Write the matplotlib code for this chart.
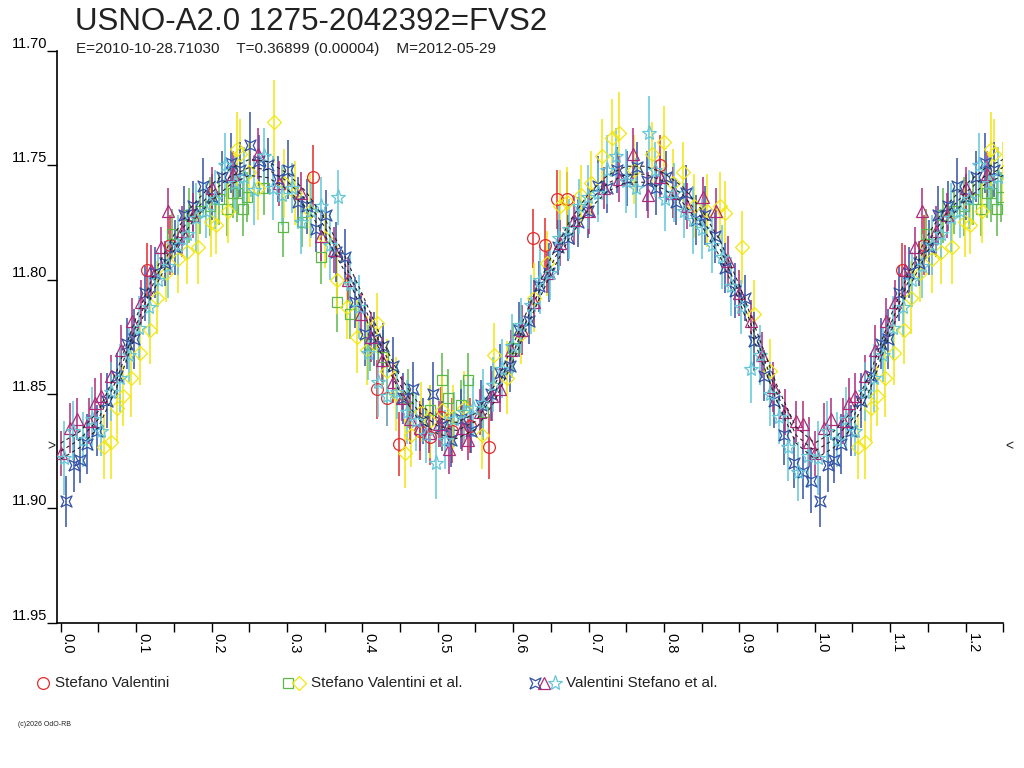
import numpy as np
import matplotlib.pyplot as plt
from matplotlib.ticker import MultipleLocator

plt.rcParams['font.family'] = ['Liberation Sans', 'DejaVu Sans']

title = "USNO-A2.0 1275-2042392=FVS2"
subtitle = "E=2010-10-28.71030    T=0.36899 (0.00004)    M=2012-05-29"
ref_mag = 11.873
curve_band = 0.0035

# fitted light curve, phase 0..1
curve_phase = [0.000, 0.025, 0.050, 0.075, 0.100, 0.125, 0.150, 0.175, 0.200, 0.225,
               0.250, 0.275, 0.300, 0.325, 0.350, 0.375, 0.400, 0.425, 0.450, 0.475,
               0.500, 0.525, 0.550, 0.575, 0.600, 0.625, 0.650, 0.675, 0.700, 0.725,
               0.750, 0.775, 0.800, 0.825, 0.850, 0.875, 0.900, 0.925, 0.950, 0.975, 1.000]
curve_mag = [11.875, 11.870, 11.861, 11.843, 11.820, 11.800, 11.784, 11.771, 11.762, 11.755,
             11.751, 11.752, 11.757, 11.765, 11.777, 11.792, 11.810, 11.829, 11.846, 11.858,
             11.864, 11.866, 11.862, 11.850, 11.832, 11.812, 11.794, 11.778, 11.766, 11.758,
             11.754, 11.754, 11.757, 11.763, 11.773, 11.787, 11.806, 11.828, 11.850, 11.868, 11.875]

# Stefano Valentini
red_phase = [0.115, 0.145, 0.335, 0.419, 0.432, 0.448, 0.476, 0.490, 0.504, 0.519,
             0.543, 0.568, 0.626, 0.642, 0.658, 0.672, 0.795]
red_mag = [11.796, 11.785, 11.755, 11.848, 11.852, 11.872, 11.866, 11.869, 11.860, 11.866,
           11.864, 11.873, 11.782, 11.785, 11.765, 11.765, 11.750]
red_err = [0.012, 0.013, 0.014, 0.013, 0.012, 0.014, 0.013, 0.012, 0.013, 0.014,
           0.012, 0.014, 0.013, 0.012, 0.013, 0.012, 0.013]

# Stefano Valentini et al. (two filters)
green_phase = [0.148, 0.170, 0.185, 0.198, 0.210, 0.221, 0.229, 0.234, 0.242, 0.247,
               0.270, 0.295, 0.320, 0.345, 0.367, 0.384, 0.410, 0.428, 0.460, 0.490,
               0.506, 0.514, 0.531, 0.540, 0.560, 0.600]
green_mag = [11.780, 11.772, 11.770, 11.768, 11.765, 11.769, 11.762, 11.762, 11.769, 11.764,
             11.760, 11.777, 11.775, 11.790, 11.810, 11.815, 11.828, 11.834, 11.852, 11.857,
             11.844, 11.852, 11.855, 11.844, 11.858, 11.830]
green_err = [0.011, 0.012, 0.010, 0.013, 0.011, 0.012, 0.011, 0.013, 0.012, 0.011,
             0.012, 0.013, 0.011, 0.012, 0.013, 0.011, 0.012, 0.012, 0.013, 0.011,
             0.012, 0.013, 0.011, 0.012, 0.012, 0.011]

yellow_phase = [0.057, 0.066, 0.075, 0.083, 0.093, 0.105, 0.118, 0.128, 0.140, 0.155,
                0.168, 0.182, 0.199, 0.206, 0.222, 0.234, 0.238, 0.250, 0.262, 0.283,
                0.296, 0.310, 0.330, 0.350, 0.366, 0.380, 0.393, 0.406, 0.420, 0.432,
                0.445, 0.456, 0.464, 0.478, 0.490, 0.505, 0.520, 0.535, 0.559, 0.574,
                0.592, 0.610, 0.628, 0.645, 0.662, 0.672, 0.690, 0.703, 0.718, 0.731,
                0.740, 0.760, 0.784, 0.800, 0.812, 0.825, 0.840, 0.857, 0.874, 0.881,
                0.903, 0.920, 0.940]
yellow_mag = [11.873, 11.871, 11.856, 11.851, 11.843, 11.832, 11.822, 11.808, 11.797, 11.791,
              11.788, 11.786, 11.775, 11.776, 11.770, 11.743, 11.745, 11.753, 11.760, 11.731,
              11.758, 11.762, 11.770, 11.782, 11.800, 11.812, 11.825, 11.831, 11.819, 11.840,
              11.850, 11.876, 11.868, 11.858, 11.862, 11.857, 11.860, 11.856, 11.868, 11.833,
              11.843, 11.824, 11.808, 11.793, 11.768, 11.766, 11.763, 11.758, 11.746, 11.738,
              11.736, 11.752, 11.745, 11.740, 11.758, 11.753, 11.768, 11.770, 11.768, 11.771,
              11.786, 11.815, 11.840]
yellow_err = [0.014, 0.016, 0.015, 0.013, 0.017, 0.014, 0.015, 0.016, 0.013, 0.015,
              0.014, 0.016, 0.015, 0.013, 0.014, 0.016, 0.015, 0.013, 0.014, 0.018,
              0.015, 0.014, 0.016, 0.013, 0.015, 0.014, 0.016, 0.015, 0.013, 0.014,
              0.016, 0.015, 0.014, 0.013, 0.016, 0.015, 0.014, 0.016, 0.015, 0.014,
              0.016, 0.013, 0.015, 0.014, 0.016, 0.015, 0.013, 0.014, 0.016, 0.017,
              0.018, 0.015, 0.014, 0.016, 0.015, 0.013, 0.014, 0.016, 0.015, 0.014,
              0.016, 0.015, 0.014]

# Valentini Stefano et al. (three filters)
blue_phase = [0.007, 0.018, 0.026, 0.035, 0.048, 0.061, 0.074, 0.088, 0.097, 0.112,
              0.125, 0.138, 0.151, 0.163, 0.176, 0.189, 0.201, 0.214, 0.226, 0.238,
              0.251, 0.263, 0.275, 0.288, 0.301, 0.314, 0.327, 0.339, 0.352, 0.365,
              0.377, 0.390, 0.403, 0.416, 0.428, 0.441, 0.454, 0.467, 0.480, 0.493,
              0.505, 0.518, 0.531, 0.544, 0.557, 0.570, 0.583, 0.596, 0.608, 0.621,
              0.634, 0.647, 0.660, 0.673, 0.686, 0.699, 0.712, 0.725, 0.738, 0.751,
              0.764, 0.777, 0.790, 0.803, 0.816, 0.829, 0.842, 0.855, 0.868, 0.881,
              0.894, 0.907, 0.920, 0.933, 0.946, 0.959, 0.972, 0.985, 0.995]
blue_mag = [11.897, 11.881, 11.879, 11.872, 11.866, 11.853, 11.842, 11.828, 11.826, 11.806,
            11.797, 11.793, 11.786, 11.772, 11.768, 11.759, 11.764, 11.755, 11.749, 11.752,
            11.741, 11.748, 11.750, 11.756, 11.752, 11.766, 11.768, 11.778, 11.772, 11.788,
            11.790, 11.810, 11.824, 11.826, 11.829, 11.838, 11.852, 11.848, 11.862, 11.850,
            11.864, 11.870, 11.861, 11.866, 11.855, 11.850, 11.841, 11.838, 11.822, 11.818,
            11.803, 11.797, 11.786, 11.782, 11.775, 11.770, 11.759, 11.760, 11.752, 11.756,
            11.751, 11.757, 11.760, 11.755, 11.766, 11.762, 11.774, 11.772, 11.781, 11.795,
            11.805, 11.808, 11.827, 11.842, 11.853, 11.868, 11.880, 11.884, 11.888]
blue_err = [0.011, 0.012, 0.010, 0.013, 0.011, 0.012, 0.010, 0.011, 0.013, 0.012,
            0.011, 0.010, 0.012, 0.013, 0.011, 0.012, 0.010, 0.011, 0.013, 0.012,
            0.014, 0.011, 0.012, 0.010, 0.013, 0.011, 0.012, 0.010, 0.011, 0.013,
            0.012, 0.011, 0.014, 0.012, 0.010, 0.013, 0.011, 0.012, 0.010, 0.014,
            0.011, 0.012, 0.013, 0.010, 0.011, 0.012, 0.013, 0.011, 0.012, 0.010,
            0.011, 0.013, 0.012, 0.010, 0.011, 0.012, 0.013, 0.011, 0.010, 0.012,
            0.011, 0.013, 0.012, 0.011, 0.010, 0.012, 0.011, 0.013, 0.012, 0.011,
            0.012, 0.010, 0.013, 0.011, 0.012, 0.013, 0.011, 0.012, 0.014]

purple_phase = [0.000, 0.012, 0.021, 0.037, 0.045, 0.053, 0.066, 0.080, 0.094, 0.106,
                0.120, 0.133, 0.142, 0.161, 0.175, 0.200, 0.228, 0.262, 0.290, 0.318,
                0.345, 0.362, 0.381, 0.398, 0.412, 0.426, 0.440, 0.452, 0.463, 0.476,
                0.489, 0.501, 0.515, 0.532, 0.540, 0.556, 0.572, 0.583, 0.597, 0.612,
                0.628, 0.645, 0.662, 0.680, 0.700, 0.720, 0.740, 0.759, 0.779, 0.795,
                0.812, 0.830, 0.852, 0.869, 0.885, 0.900, 0.915, 0.930, 0.945, 0.960,
                0.975, 0.984, 0.992]
purple_mag = [11.876, 11.865, 11.861, 11.862, 11.854, 11.851, 11.842, 11.831, 11.818, 11.810,
              11.796, 11.786, 11.770, 11.779, 11.772, 11.760, 11.754, 11.745, 11.758, 11.762,
              11.781, 11.787, 11.800, 11.815, 11.825, 11.835, 11.845, 11.852, 11.861, 11.865,
              11.867, 11.863, 11.874, 11.865, 11.870, 11.858, 11.851, 11.848, 11.831, 11.822,
              11.810, 11.797, 11.784, 11.774, 11.770, 11.760, 11.756, 11.745, 11.763, 11.755,
              11.762, 11.768, 11.764, 11.770, 11.792, 11.806, 11.818, 11.833, 11.847, 11.858,
              11.862, 11.863, 11.871]
purple_err = [0.010, 0.011, 0.009, 0.010, 0.011, 0.010, 0.009, 0.011, 0.010, 0.010,
              0.011, 0.009, 0.010, 0.011, 0.010, 0.009, 0.010, 0.011, 0.010, 0.009,
              0.011, 0.010, 0.010, 0.009, 0.011, 0.010, 0.009, 0.010, 0.011, 0.010,
              0.009, 0.010, 0.011, 0.010, 0.009, 0.010, 0.011, 0.010, 0.009, 0.011,
              0.010, 0.009, 0.010, 0.011, 0.010, 0.009, 0.010, 0.011, 0.010, 0.009,
              0.011, 0.010, 0.009, 0.010, 0.011, 0.010, 0.009, 0.010, 0.011, 0.010,
              0.009, 0.010, 0.011]

cyan_phase = [0.004, 0.016, 0.029, 0.041, 0.053, 0.066, 0.079, 0.091, 0.104, 0.117,
              0.129, 0.142, 0.155, 0.167, 0.180, 0.193, 0.205, 0.218, 0.231, 0.243,
              0.256, 0.269, 0.281, 0.294, 0.307, 0.319, 0.332, 0.345, 0.357, 0.368,
              0.383, 0.395, 0.408, 0.421, 0.433, 0.446, 0.459, 0.471, 0.484, 0.497,
              0.509, 0.522, 0.535, 0.547, 0.560, 0.573, 0.585, 0.598, 0.611, 0.623,
              0.636, 0.649, 0.661, 0.674, 0.687, 0.699, 0.712, 0.725, 0.737, 0.750,
              0.763, 0.780, 0.788, 0.801, 0.813, 0.826, 0.839, 0.851, 0.864, 0.877,
              0.889, 0.902, 0.915, 0.927, 0.940, 0.953, 0.965, 0.978, 0.991]
cyan_mag = [11.878, 11.866, 11.870, 11.861, 11.866, 11.849, 11.843, 11.833, 11.821, 11.812,
            11.800, 11.794, 11.785, 11.780, 11.773, 11.770, 11.765, 11.750, 11.758, 11.755,
            11.761, 11.746, 11.760, 11.763, 11.760, 11.775, 11.770, 11.768, 11.785, 11.764,
            11.802, 11.812, 11.832, 11.845, 11.851, 11.849, 11.858, 11.862, 11.868, 11.880,
            11.870, 11.861, 11.858, 11.856, 11.854, 11.846, 11.839, 11.829, 11.820, 11.811,
            11.800, 11.797, 11.782, 11.778, 11.768, 11.764, 11.762, 11.752, 11.746, 11.757,
            11.760, 11.736, 11.752, 11.765, 11.762, 11.770, 11.774, 11.778, 11.785, 11.790,
            11.803, 11.812, 11.839, 11.833, 11.850, 11.860, 11.873, 11.884, 11.877]
cyan_err = [0.016, 0.013, 0.012, 0.014, 0.011, 0.013, 0.015, 0.012, 0.014, 0.013,
            0.012, 0.014, 0.013, 0.011, 0.015, 0.012, 0.013, 0.014, 0.012, 0.013,
            0.015, 0.012, 0.014, 0.013, 0.011, 0.014, 0.012, 0.013, 0.015, 0.012,
            0.013, 0.014, 0.012, 0.015, 0.013, 0.012, 0.014, 0.013, 0.012, 0.016,
            0.013, 0.012, 0.014, 0.013, 0.015, 0.012, 0.013, 0.014, 0.012, 0.013,
            0.015, 0.012, 0.014, 0.013, 0.012, 0.014, 0.013, 0.015, 0.012, 0.014,
            0.013, 0.016, 0.012, 0.014, 0.013, 0.012, 0.015, 0.013, 0.012, 0.014,
            0.013, 0.012, 0.015, 0.013, 0.014, 0.012, 0.015, 0.013, 0.014]

RED, GREEN, YELLOW = '#e52a2a', '#5cb848', '#f2e60f'
BLUE, PURPLE, CYAN = '#3352a8', '#b02a7a', '#62c6d8'

# 4-point star used for the blue series
xstar = [(-1, -1), (-0.5, 0), (-1, 1), (0, 0.5), (1, 1), (0.5, 0), (1, -1), (0, -0.5), (-1, -1)]


def fold(phase, *cols):
    # repeat phases 0..0.25 after 1.0 like the original plot
    p = np.asarray(phase)
    sel = p <= 0.25
    out = [np.concatenate([p, p[sel] + 1.0])]
    for c in cols:
        c = np.asarray(c)
        out.append(np.concatenate([c, c[sel]]))
    return out


fig = plt.figure(figsize=(10.24, 7.68), dpi=100)
ax = fig.add_axes([57 / 1024, 1 - 622.7 / 768, 946.3 / 1024, 572 / 768])

series = [
    (red_phase, red_mag, red_err, RED, 'o', 8.5),
    (green_phase, green_mag, green_err, GREEN, 's', 7),
    (yellow_phase, yellow_mag, yellow_err, YELLOW, 'D', 7.5),
    (blue_phase, blue_mag, blue_err, BLUE, xstar, 8),
    (purple_phase, purple_mag, purple_err, PURPLE, '^', 8.5),
    (cyan_phase, cyan_mag, cyan_err, CYAN, '*', 11),
]
for ph, mg, er, col, mk, ms in series:
    x, y, e = fold(ph, mg, er)
    ax.errorbar(x, y, yerr=e, fmt='none', ecolor=col, elinewidth=1.1, capsize=0, zorder=2)
    ax.plot(x, y, ls='none', marker=mk, ms=ms, mfc='none', mec=col, mew=0.9, zorder=3)

cx, cy = fold(curve_phase, curve_mag)
order = np.argsort(cx)
cx, cy = cx[order], cy[order]
for off in (-curve_band, 0.0, curve_band):
    ax.plot(cx, cy + off, color='#222222', lw=0.8, ls=(0, (3, 3)), zorder=4)

ax.set_xlim(-0.005, 1.25)
ax.set_ylim(11.95, 11.70)
ax.spines['top'].set_visible(False)
ax.spines['right'].set_visible(False)
ax.spines['left'].set_linewidth(1.2)
ax.spines['bottom'].set_linewidth(1.2)

ax.xaxis.set_major_locator(MultipleLocator(0.1))
ax.xaxis.set_minor_locator(MultipleLocator(0.05))
ax.set_xticks(np.arange(0, 1.21, 0.1))
ax.set_xticklabels(['%.1f' % v for v in np.arange(0, 1.21, 0.1)])
ax.tick_params(axis='x', which='both', length=6.5, width=1, direction='out', pad=1, labelsize=10.5)
plt.setp(ax.get_xticklabels(), rotation=270, ha='left', va='top')

ax.set_yticks([11.70, 11.75, 11.80, 11.85, 11.90, 11.95])
ax.set_yticklabels(['11.70', '11.75', '11.80', '11.85', '11.90', '11.95'])
ax.tick_params(axis='y', length=7, width=1, direction='out', pad=0, labelsize=10.5)
plt.setp(ax.get_yticklabels(), va='bottom')

tr = ax.get_yaxis_transform()
ax.text(-0.002, ref_mag, '>', transform=tr, ha='right', va='center', fontsize=10, color='#222222', clip_on=False)
ax.text(1.002, ref_mag, '<', transform=tr, ha='left', va='center', fontsize=10, color='#222222', clip_on=False)

fig.text(75 / 1024, 1 - 30 / 768, title, fontsize=22.5, va='baseline', color='#222222')
fig.text(76 / 1024, 1 - 52.5 / 768, subtitle, fontsize=11, va='baseline', color='#222222')

# legend row
lg = fig.add_axes([0, 0, 1, 1])
lg.set_xlim(0, 1024)
lg.set_ylim(768, 0)
lg.axis('off')
leg_items = [
    ([(43, RED, 'o', 8.5)], 55, 'Stefano Valentini'),
    ([(288, GREEN, 's', 7), (299, YELLOW, 'D', 7.5)], 311, 'Stefano Valentini et al.'),
    ([(535, BLUE, xstar, 8), (544, PURPLE, '^', 8.5), (555, CYAN, '*', 11)], 566, 'Valentini Stefano et al.'),
]
for marks, tx, label in leg_items:
    for mx, col, mk, ms in marks:
        lg.plot([mx], [683], ls='none', marker=mk, ms=ms, mfc='none', mec=col, mew=0.9)
    lg.text(tx, 683, label, fontsize=11, va='center', ha='left', color='#222222')
lg.text(18, 724, '(c)2026 OdO-RB', fontsize=5, va='center', ha='left', color='#222222')

fig.savefig('out.png', dpi=100)
